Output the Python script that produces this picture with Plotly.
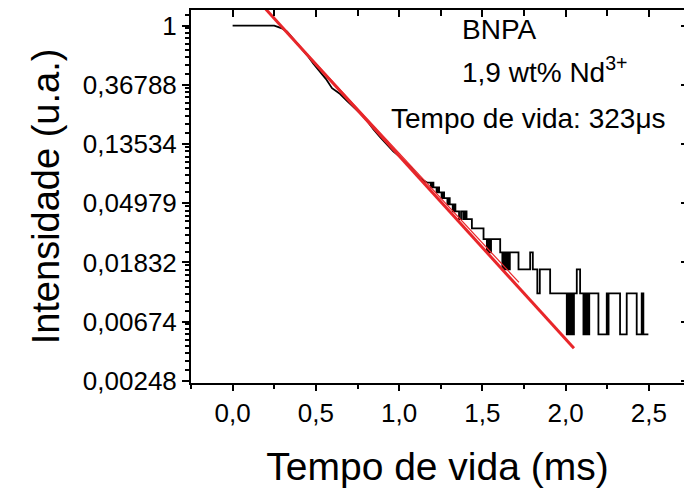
import numpy as np
import plotly.graph_objects as go

# Normalised luminescence decay (counts / peak count), smooth part
decay_t = [0.00, 0.25, 0.267, 0.30, 0.327, 0.355, 0.387, 0.415, 0.447, 0.485,
           0.526, 0.56, 0.597, 0.62, 0.646, 0.685, 0.726, 0.765, 0.807, 0.845,
           0.886, 0.925, 0.965, 1.007, 1.045, 1.085, 1.125, 1.167]
decay_counts = [184, 184, 181, 175, 166, 152, 136, 124, 112, 97,
                84, 75, 64, 61, 58, 52, 47, 42, 37, 32,
                28, 25, 22, 20, 18, 16, 14, 13]

# Low-count tail, recorded as step changes of the photon count
tail_t = [1.167, 1.19, 1.198, 1.206, 1.225, 1.232, 1.24, 1.255, 1.263, 1.27,
          1.29, 1.297, 1.304, 1.322, 1.33, 1.338, 1.36, 1.372, 1.385, 1.39,
          1.395, 1.40, 1.405, 1.437, 1.507, 1.527, 1.532, 1.537, 1.542, 1.547,
          1.552, 1.607, 1.62, 1.625, 1.63, 1.635, 1.645, 1.65, 1.66, 1.665,
          1.717, 1.787, 1.803, 1.83, 1.845, 1.907, 2.007, 2.012, 2.017, 2.022,
          2.027, 2.032, 2.037, 2.042, 2.047, 2.05, 2.067, 2.087, 2.107, 2.112,
          2.117, 2.122, 2.127, 2.132, 2.137, 2.142, 2.197, 2.247, 2.252, 2.258,
          2.327, 2.367, 2.427, 2.457, 2.467, 2.497]
tail_counts = [13, 12, 13, 12, 11, 12, 11, 10, 11, 10,
               9, 10, 9, 8, 9, 8, 7, 8, 7, 8,
               7, 8, 7, 6, 5, 4, 5, 4, 5, 4,
               5, 4, 3, 4, 3, 4, 3, 4, 3, 4,
               3, 4, 3, 2, 3, 2, 1, 2, 1, 2,
               1, 2, 1, 2, 1, 2, 3, 2, 1, 2,
               1, 2, 1, 2, 1, 2, 1, 2, 1, 2,
               1, 2, 1, 2, 1, 1]
peak_count = 184

# Single-exponential fit
tau_ms = 0.323
fit_amp = 2.45
fit_t = [0.10, 2.05]
fit2_t = [0.25, 1.72]
fit2_amp = 2.40
fit2_tau = 0.330

y_tickvals = [1, 0.36788, 0.13534, 0.04979, 0.01832, 0.00674, 0.00248]
y_ticktext = ["1", "0,36788", "0,13534", "0,04979", "0,01832", "0,00674", "0,00248"]
x_tickvals = [0.0, 0.5, 1.0, 1.5, 2.0, 2.5]

FONT = "Liberation Sans, Arial, sans-serif"

decay_I = np.array(decay_counts) / peak_count
tail_I = np.array(tail_counts) / peak_count
fit_I = fit_amp * np.exp(-np.array(fit_t) / tau_ms)
fit2_I = fit2_amp * np.exp(-np.array(fit2_t) / fit2_tau)

# minor ticks of the natural-log axis: e^-k * (1.2, 1.4, ..., 2.6)
minor_y = [np.exp(-k) * (1 + 0.2 * j) for k in range(0, 7) for j in range(1, 9)]
minor_y = [v for v in minor_y if v < np.exp(0.26)]

x_range = [-0.25, 2.711]
y_range = [np.log10(np.exp(-6.036)), np.log10(np.exp(0.265))]

fig = go.Figure()
fig.add_trace(go.Scatter(x=decay_t, y=decay_I, mode="lines",
                         line=dict(color="black", width=1.8), showlegend=False))
fig.add_trace(go.Scatter(x=tail_t, y=tail_I, mode="lines", line_shape="hv",
                         line=dict(color="black", width=1.8), showlegend=False))
fig.add_trace(go.Scatter(x=fit2_t, y=fit2_I, mode="lines",
                         line=dict(color="#e8262a", width=1.2), showlegend=False))
fig.add_trace(go.Scatter(x=fit_t, y=fit_I, mode="lines",
                         line=dict(color="#e8262a", width=3), showlegend=False))

axis_font = dict(family=FONT, size=26, color="black")

fig.update_layout(
    width=684, height=491,
    margin=dict(l=191, r=0, t=10, b=108),
    paper_bgcolor="white", plot_bgcolor="white",
    separators=",.",
    font=dict(family=FONT, color="black"),
    xaxis=dict(
        range=x_range, tickmode="array", tickvals=x_tickvals, tickformat=".1f",
        showline=True, linecolor="black", linewidth=2, mirror=False,
        ticks="outside", ticklen=6, tickwidth=2, tickcolor="black",
        minor=dict(ticks="outside", ticklen=4, tickwidth=2, tickcolor="black",
                   tickmode="linear", tick0=0, dtick=0.25, showgrid=False),
        showgrid=False, zeroline=False, tickfont=axis_font,
        title=dict(text="Tempo de vida (ms)", font=dict(family=FONT, size=39), standoff=25),
    ),
    yaxis=dict(
        type="log", range=y_range, tickmode="array",
        tickvals=y_tickvals, ticktext=y_ticktext,
        showline=True, linecolor="black", linewidth=2, mirror=False,
        ticks="outside", ticklen=7, tickwidth=2, tickcolor="black",
        minor=dict(ticks="outside", ticklen=4, tickwidth=1.5, tickcolor="black",
                   tickmode="array", tickvals=minor_y, showgrid=False),
        showgrid=False, zeroline=False, tickfont=axis_font,
        title=dict(text="Intensidade (u.a.)", font=dict(family=FONT, size=38), standoff=12),
    ),
    xaxis2=dict(
        overlaying="x", side="top", anchor="y", range=x_range,
        tickmode="array", tickvals=x_tickvals, showticklabels=False,
        showline=True, linecolor="black", linewidth=2,
        ticks="inside", ticklen=7, tickwidth=2, tickcolor="black",
        minor=dict(ticks="inside", ticklen=6, tickwidth=2, tickcolor="black",
                   tickmode="linear", tick0=0, dtick=0.25, showgrid=False),
        showgrid=False, zeroline=False,
    ),
    yaxis2=dict(
        overlaying="y", side="right", anchor="x", type="log", range=y_range,
        tickmode="array", tickvals=y_tickvals, showticklabels=False,
        showline=False, ticks="inside", ticklen=3, tickwidth=2, tickcolor="black",
        showgrid=False, zeroline=False,
    ),
)

# keep the mirrored axes alive with an invisible trace
fig.add_trace(go.Scatter(x=[0], y=[1], xaxis="x2", yaxis="y2", mode="markers",
                         marker=dict(opacity=0), showlegend=False, hoverinfo="skip"))

ann_font = dict(family=FONT, size=28, color="black")
fig.add_annotation(x=1.367, y=np.log10(0.93), text="BNPA", showarrow=False,
                   xanchor="left", yanchor="middle", font=ann_font)
fig.add_annotation(x=1.367, y=np.log10(0.472), text="1,9 wt% Nd<sup>3+</sup>",
                   showarrow=False, xanchor="left", yanchor="middle", font=ann_font)
fig.add_annotation(x=0.937, y=np.log10(0.207),
                   text=f"Tempo de vida: {round(tau_ms * 1000)}μs",
                   showarrow=False, xanchor="left", yanchor="middle", font=ann_font)

fig.write_html("out.html")
